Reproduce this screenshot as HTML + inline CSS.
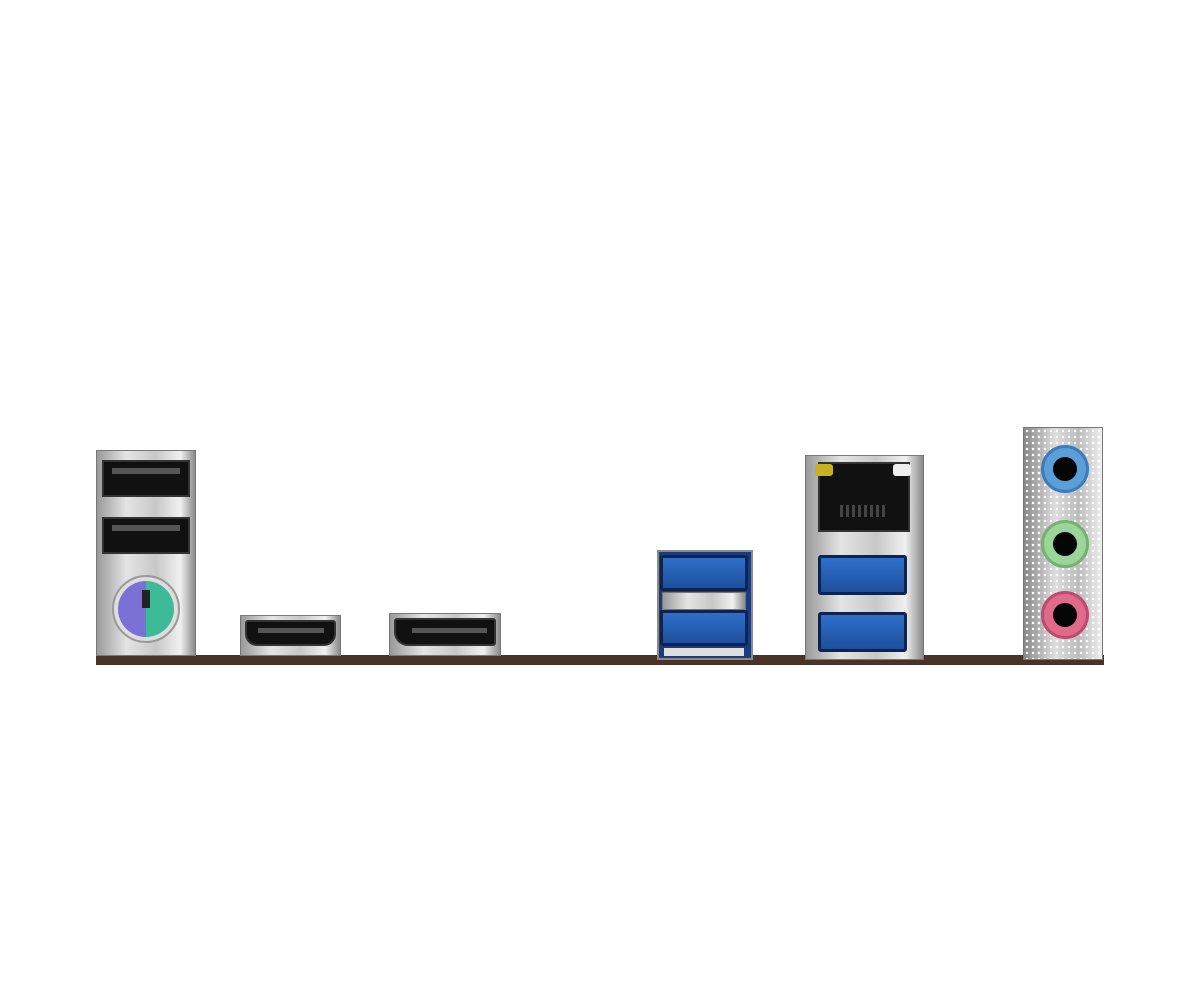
<!DOCTYPE html>
<html><head><style>
body{margin:0;width:1200px;height:1000px;background:#fff;position:relative;overflow:hidden;font-family:"Liberation Sans",sans-serif}
div{position:absolute;box-sizing:border-box}
.sil{background:linear-gradient(90deg,#9a9a9a,#e4e4e4 30%,#c8c8c8 60%,#f0f0f0 85%,#8a8a8a);border:1px solid #777}
.blk{background:#111;border:2px solid #333}
.blu{background:linear-gradient(#2f6fc9,#1d4f9e);border:3px solid #0d2350;border-radius:3px}
.jack{border-radius:50%}
.hole{border-radius:50%;background:#050505}
</style></head><body>
<div style="left:96px;top:655px;width:1008px;height:10px;background:#4a3328"></div>
<!-- left stack -->
<div class="sil" style="left:96px;top:450px;width:100px;height:206px"></div>
<div class="blk" style="left:102px;top:460px;width:88px;height:37px"></div>
<div style="left:112px;top:468px;width:68px;height:6px;background:#555"></div>
<div class="blk" style="left:102px;top:517px;width:88px;height:37px"></div>
<div style="left:112px;top:525px;width:68px;height:6px;background:#555"></div>
<div class="jack" style="left:112px;top:575px;width:68px;height:68px;background:#ddd;border:2px solid #999"></div>
<div class="jack" style="left:118px;top:581px;width:56px;height:56px;background:linear-gradient(90deg,#7b70d6 50%,#3dbb98 50%)"></div>
<div style="left:142px;top:590px;width:8px;height:18px;background:#222"></div>
<!-- HDMI -->
<div class="sil" style="left:240px;top:615px;width:101px;height:41px"></div>
<div class="blk" style="left:245px;top:620px;width:91px;height:26px;border-radius:3px 3px 12px 12px"></div>
<div style="left:258px;top:628px;width:66px;height:5px;background:#555"></div>
<!-- DP -->
<div class="sil" style="left:389px;top:613px;width:112px;height:43px"></div>
<div class="blk" style="left:394px;top:618px;width:102px;height:28px;border-radius:3px 3px 3px 14px"></div>
<div style="left:412px;top:628px;width:75px;height:5px;background:#555"></div>
<!-- USB3 stack -->
<div style="left:657px;top:550px;width:96px;height:110px;background:#1b3c7a;border:2px solid #8a8a8a"></div>
<div class="blu" style="left:660px;top:555px;width:88px;height:36px"></div>
<div class="sil" style="left:662px;top:592px;width:84px;height:18px"></div>
<div class="blu" style="left:660px;top:610px;width:88px;height:36px"></div>
<div style="left:664px;top:648px;width:80px;height:8px;background:#ddd"></div>
<!-- LAN block -->
<div class="sil" style="left:805px;top:455px;width:119px;height:205px"></div>
<div class="blk" style="left:818px;top:462px;width:92px;height:70px"></div>
<div style="left:815px;top:464px;width:18px;height:12px;background:#c8b020;border-radius:3px"></div>
<div style="left:893px;top:464px;width:18px;height:12px;background:#eee;border-radius:3px"></div>
<div style="left:840px;top:505px;width:48px;height:12px;background:repeating-linear-gradient(90deg,#444 0 3px,#111 3px 6px)"></div>
<div class="blu" style="left:818px;top:555px;width:89px;height:40px"></div>
<div class="blu" style="left:818px;top:612px;width:89px;height:40px"></div>
<!-- audio -->
<div style="left:1023px;top:427px;width:80px;height:233px;background:radial-gradient(circle,#fff 1px,transparent 1.5px) 0 0/6px 6px,linear-gradient(90deg,#888,#ddd 40%,#bbb 70%,#eee);border:1px solid #777"></div>
<div class="jack" style="left:1041px;top:445px;width:48px;height:48px;background:#5a9fd8;border:3px solid #3c7bbd"></div>
<div class="hole" style="left:1053px;top:457px;width:24px;height:24px"></div>
<div class="jack" style="left:1041px;top:520px;width:48px;height:48px;background:#9cd59a;border:3px solid #74b172"></div>
<div class="hole" style="left:1053px;top:532px;width:24px;height:24px"></div>
<div class="jack" style="left:1041px;top:591px;width:48px;height:48px;background:#df6a8c;border:3px solid #c04a6d"></div>
<div class="hole" style="left:1053px;top:603px;width:24px;height:24px"></div>
</body></html>
